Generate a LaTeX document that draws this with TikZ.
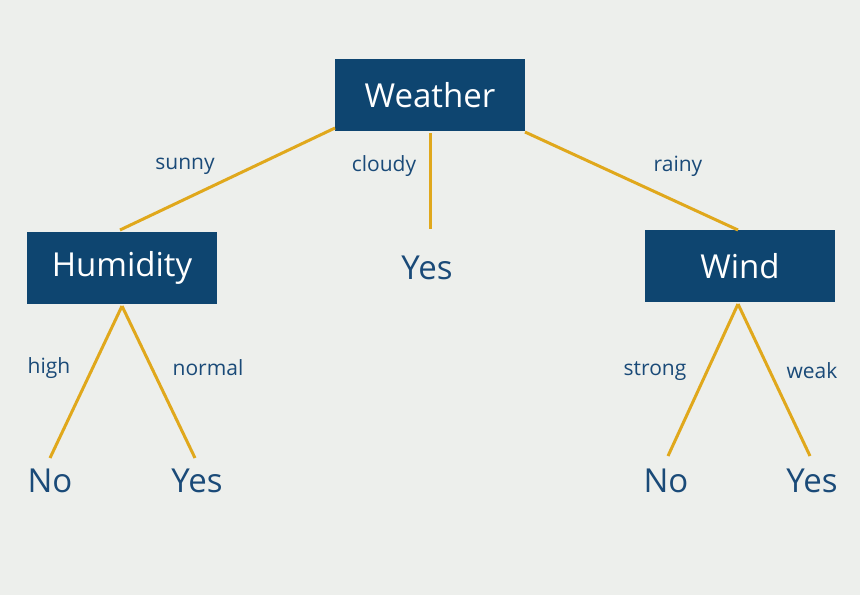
\documentclass[tikz,border=0pt]{standalone}
\usepackage{fontspec}
\setmainfont{Open Sans}
\definecolor{bg}{HTML}{EDEFEC}
\definecolor{boxc}{HTML}{0E4570}
\definecolor{linec}{HTML}{E0A81C}
\definecolor{txt}{HTML}{1A4A78}
\begin{document}
\begin{tikzpicture}[x=1pt,y=-1pt,
  box/.style={fill=boxc,text=white,minimum width=190pt,minimum height=72pt,inner sep=0pt,font=\fontsize{33}{36}\selectfont},
  leaf/.style={text=txt,inner sep=0pt,font=\fontsize{33}{36}\selectfont},
  lbl/.style={text=txt,inner sep=0pt,font=\fontsize{21}{24}\selectfont},
  edge/.style={draw=linec,line width=3pt}]
\fill[bg] (0,0) rectangle (860,595);
\useasboundingbox (0,0) rectangle (860,595);
\node[box] (w) at (430,95) {Weather};
\node[box] (h) at (122,268) {Humidity};
\node[box] (wi) at (740,266) {Wind};
\node[leaf] (y1) at (427,268) {Yes};
\node[leaf] (n1) at (50,481) {No};
\node[leaf] (y2) at (197,481) {Yes};
\node[leaf] (n2) at (666,481) {No};
\node[leaf] (y3) at (812,481) {Yes};
\coordinate (ws) at (335,128);
\coordinate (hs) at (120,230);
\coordinate (wc) at (430,133);
\coordinate (yc) at (430,229);
\coordinate (wr) at (525,132);
\coordinate (wir) at (738,230);
\coordinate (hb) at (122,306);
\coordinate (n1t) at (50,458);
\coordinate (y2t) at (195,458);
\coordinate (wib) at (738,304);
\coordinate (n2t) at (668,456);
\coordinate (y3t) at (810,456);
\draw[edge] (ws) -- (hs);
\draw[edge] (wc) -- (yc);
\draw[edge] (wr) -- (wir);
\draw[edge] (hb) -- (n1t);
\draw[edge] (hb) -- (y2t);
\draw[edge] (wib) -- (n2t);
\draw[edge] (wib) -- (y3t);
\node[lbl] (l1) at (185,166) {sunny};
\node[lbl] (l2) at (384,166) {cloudy};
\node[lbl] (l3) at (678,166) {rainy};
\node[lbl] (l4) at (49,368) {high};
\node[lbl] (l5) at (208,368) {normal};
\node[lbl] (l6) at (655,371) {strong};
\node[lbl] (l7) at (812,371) {weak};
\end{tikzpicture}
\end{document}
